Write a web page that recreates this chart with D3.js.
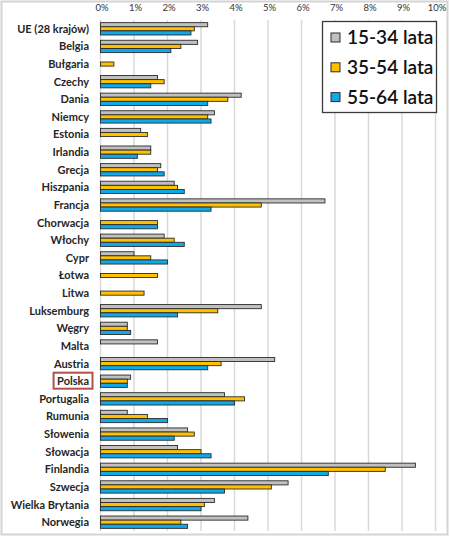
<!DOCTYPE html>
<html>
<head>
<meta charset="utf-8">
<script src="https://cdn.jsdelivr.net/npm/d3@7"></script>
<style>
  body { margin: 0; background: #fff; }
</style>
</head>
<body>
<div id="chart"><svg></svg></div>
<script>
var countries = ["UE (28 krajów)", "Belgia", "Bułgaria", "Czechy", "Dania", "Niemcy", "Estonia",
    "Irlandia", "Grecja", "Hiszpania", "Francja", "Chorwacja", "Włochy", "Cypr", "Łotwa", "Litwa",
    "Luksemburg", "Węgry", "Malta", "Austria", "Polska", "Portugalia", "Rumunia", "Słowenia",
    "Słowacja", "Finlandia", "Szwecja", "Wielka Brytania", "Norwegia"];
var seriesNames = ["15-34 lata", "35-54 lata", "55-64 lata"];
var age15_34 = [3.2, 2.9, null, 1.7, 4.2, 3.4, 1.2, 1.5, 1.8, 2.2, 6.7, null, 1.9, 1.0, null, null,
    4.8, 0.8, 1.7, 5.2, 0.9, 3.7, 0.8, 2.6, 2.3, 9.4, 5.6, 3.4, 4.4];
var age35_54 = [2.8, 2.4, 0.4, 1.9, 3.8, 3.2, 1.4, 1.5, 1.7, 2.3, 4.8, 1.7, 2.2, 1.5, 1.7, 1.3,
    3.5, 0.8, null, 3.6, 0.8, 4.3, 1.4, 2.8, 3.0, 8.5, 5.1, 3.1, 2.4];
var age55_64 = [2.7, 2.1, null, 1.5, 3.2, 3.3, null, 1.1, 1.9, 2.5, 3.3, 1.7, 2.5, 2.0, null, null,
    2.3, 0.9, null, 3.2, 0.8, 4.0, 2.0, 2.2, 3.3, 6.8, 3.7, 3.0, 2.6];
var ticks = [0, 1, 2, 3, 4, 5, 6, 7, 8, 9, 10];
var colors = ["#c0c0c0", "#ffc000", "#10a8e8"];
var highlight = "Polska";

var width = 450, height = 538;
var svg = d3.select("#chart").select("svg")
    .attr("width", width)
    .attr("height", height)
    .style("font-family", "Lato, 'Open Sans', sans-serif");

// outer frame
svg.append("rect")
    .attr("x", 1.5).attr("y", 1.5)
    .attr("width", 446).attr("height", 533)
    .attr("fill", "#fff")
    .attr("stroke", "#d4d4d4")
    .attr("stroke-width", 2);

var x = d3.scaleLinear()
    .domain([0, 10])
    .range([100.5, 435.5]);

var y = d3.scaleBand()
    .domain(countries)
    .range([20, 531])
    .paddingInner(0.3)
    .paddingOuter(0.15);

var ySub = d3.scaleBand()
    .domain(d3.range(3))
    .range([0, y.bandwidth()]);

// gridlines
svg.append("g").selectAll("line")
    .data(ticks)
    .enter()
    .append("line")
    .attr("x1", function (d) { return x(d); })
    .attr("x2", function (d) { return x(d); })
    .attr("y1", 20)
    .attr("y2", 531)
    .attr("stroke", "#d9d9d9")
    .attr("stroke-width", 1.5);

// top axis
var xAxis = d3.axisTop(x)
    .tickValues(ticks)
    .tickSize(0)
    .tickPadding(0)
    .tickFormat(function (d) { return d + "%"; });
var ax = svg.append("g")
    .attr("transform", "translate(1,11)")
    .call(xAxis);
ax.select(".domain").remove();
ax.selectAll("text")
    .attr("dy", 0)
    .style("font-size", "9.5px")
    .style("font-family", "Lato, sans-serif")
    .attr("fill", "#333");

// bars
var allSeries = [age15_34, age35_54, age55_64];
allSeries.forEach(function (values, s) {
    svg.append("g").selectAll("rect")
        .data(values.map(function (v, i) { return {c: countries[i], v: v}; })
            .filter(function (d) { return d.v != null; }))
        .enter()
        .append("rect")
        .attr("x", x(0))
        .attr("y", function (d) { return y(d.c) + ySub(s); })
        .attr("width", function (d) { return x(d.v) - x(0); })
        .attr("height", ySub.bandwidth())
        .attr("fill", colors[s])
        .attr("stroke", "#2b2b2b")
        .attr("stroke-width", 0.9);
});

// category labels
var labels = svg.append("g").selectAll("text")
    .data(countries)
    .enter()
    .append("text")
    .attr("x", 89)
    .attr("y", function (d) { return y(d) + y.bandwidth() / 2; })
    .attr("dy", "0.36em")
    .attr("text-anchor", "end")
    .style("font-size", "11px")
    .style("font-weight", "bold")
    .attr("fill", "#262626")
    .text(function (d) { return d; });

// box around Polska
labels.filter(function (d) { return d === highlight; }).each(function () {
    var b = this.getBBox();
    svg.append("rect")
        .attr("x", b.x - 3.5)
        .attr("y", b.y - 1.5)
        .attr("width", b.width + 7)
        .attr("height", b.height + 3)
        .attr("fill", "none")
        .attr("stroke", "#b3504c")
        .attr("stroke-width", 2);
});

// legend
var legend = svg.append("g");
legend.append("rect")
    .attr("x", 322.5).attr("y", 21.5)
    .attr("width", 114).attr("height", 91)
    .attr("fill", "#fff")
    .attr("stroke", "#3a3a3a")
    .attr("stroke-width", 1.3);
var items = legend.selectAll("g.item")
    .data(seriesNames)
    .enter()
    .append("g")
    .attr("transform", function (d, i) { return "translate(331," + (37.5 + i * 29.8) + ")"; });
items.append("rect")
    .attr("x", 0).attr("y", -4.5)
    .attr("width", 9).attr("height", 9)
    .attr("fill", function (d, i) { return colors[i]; })
    .attr("stroke", "#2b2b2b")
    .attr("stroke-width", 1);
items.append("text")
    .attr("x", 16)
    .attr("dy", "0.36em")
    .style("font-size", "19px")
    .style("font-weight", "600")
    .attr("fill", "#111")
    .text(function (d) { return d; });
</script>
</body>
</html>
